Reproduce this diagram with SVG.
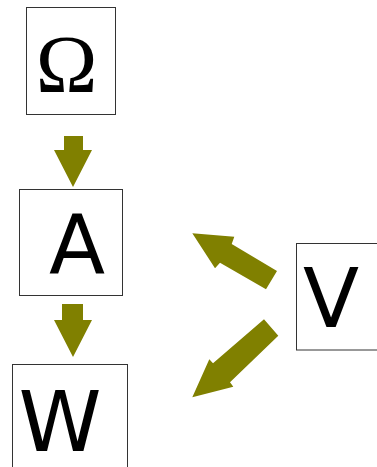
<svg xmlns="http://www.w3.org/2000/svg" width="377" height="467" viewBox="0 0 377 467">
<style>
.box{fill:#fff;stroke:#333;stroke-width:1}
.lbl{font-family:"DejaVu Sans",sans-serif;fill:#000;text-anchor:middle}
.arr{fill:#808000}
</style>
<rect width="377" height="467" fill="#fff"/>
<g id="connectors">
<polygon class="arr" points="64,136 83,136 83,150 92,150 73,187 54,150 64,150"/>
<polygon class="arr" points="62,304 83,304 83,320 92,320 73,357 54,320 62,320"/>
<polygon class="arr" points="277,271 266,289.3 220,262.7 215,268.3 192.3,233.3 234.3,236.7 231.7,244"/>
<polygon class="arr" points="264,319.3 278.3,335.7 230,382.3 233.3,386.7 192.3,397.3 209.3,359.3 213,363.3"/>
</g>
<g id="node-omega">
<rect class="box" x="26.5" y="7.5" width="89" height="107"/>
<text x="66.5" y="92" font-family="'Liberation Serif',serif" font-size="83" text-anchor="middle">Ω</text>
</g>
<g id="node-A">
<rect class="box" x="19.5" y="189.5" width="103" height="106"/>
<text class="lbl" x="77" y="273" font-size="82">A</text>
</g>
<g id="node-W">
<rect class="box" x="12.5" y="364.5" width="115" height="120"/>
<text class="lbl" x="60" y="451" font-size="84">W</text>
</g>
<g id="node-V">
<rect class="box" x="296.5" y="243.5" width="100" height="106.5"/>
<text class="lbl" x="331" y="327" font-size="82">V</text>
</g>
</svg>
